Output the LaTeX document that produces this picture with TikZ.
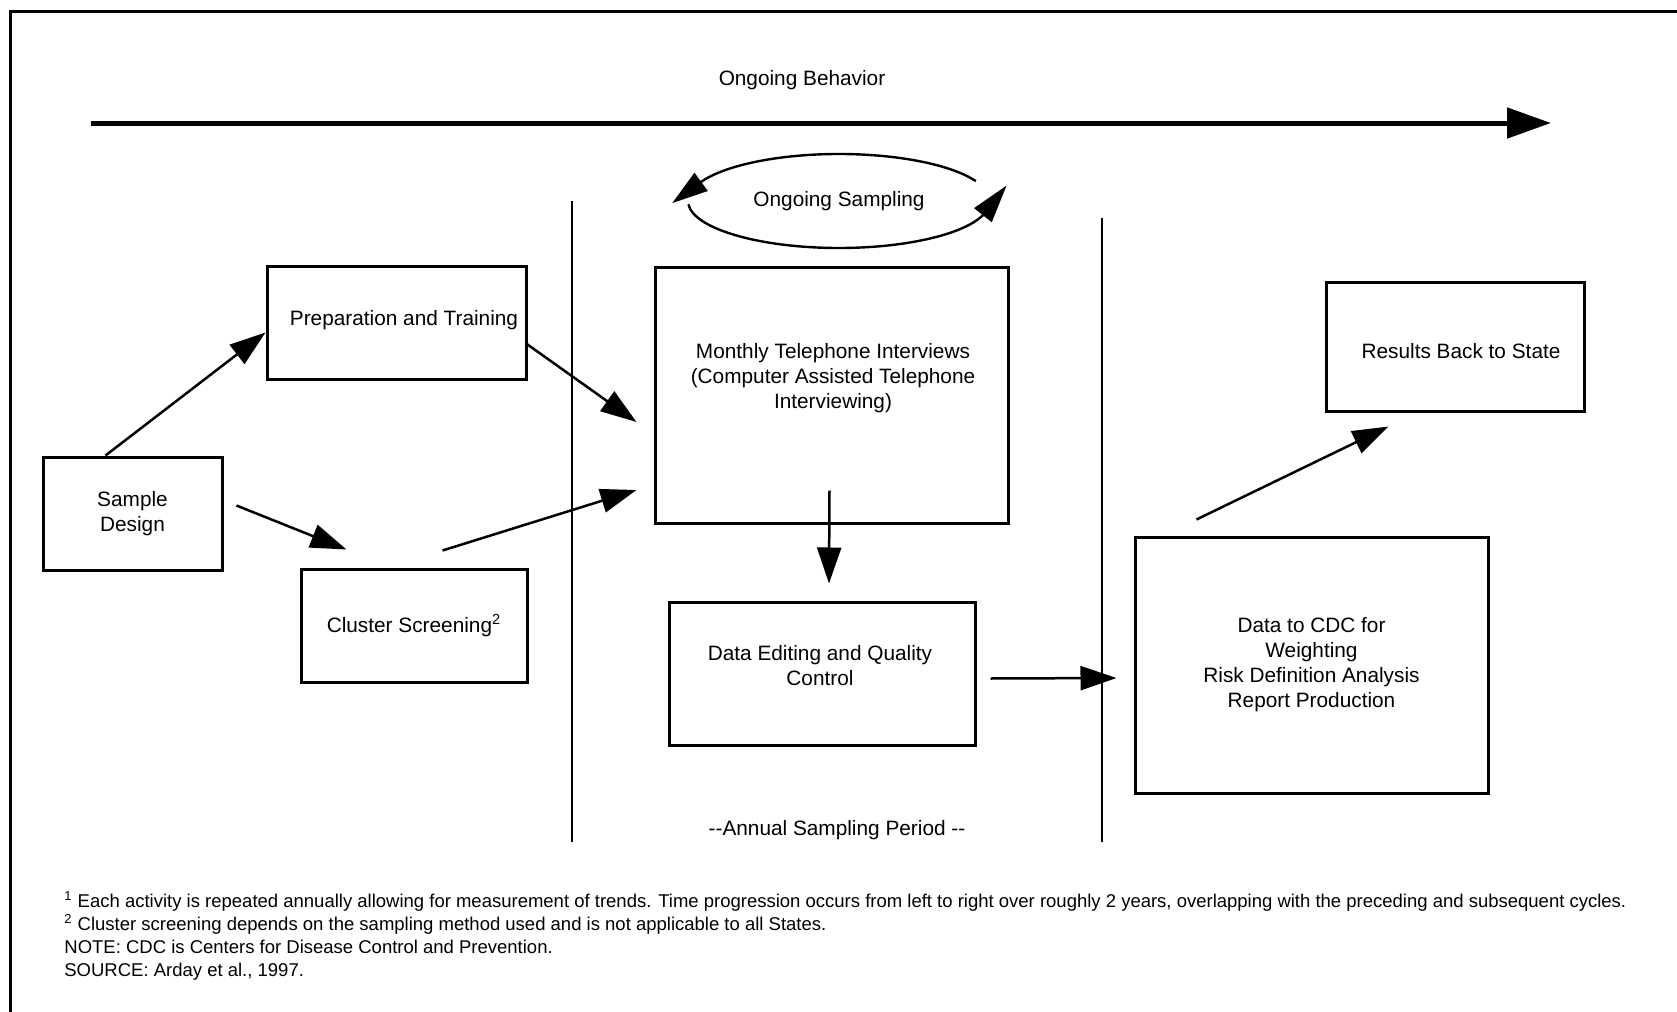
\documentclass[tikz,border=0pt]{standalone}
\usepackage{fontspec}
\setmainfont{Liberation Sans}
\usetikzlibrary{arrows.meta,calc}
\newcommand\bxfont{\fontsize{10.4pt}{12.5pt}\selectfont}
\newcommand\ftfont{\fontsize{9.25pt}{11.5pt}\selectfont}
\begin{document}
\begin{tikzpicture}[x=0.5pt,y=-0.5pt,
  box/.style={draw, line width=1.5pt, rectangle, inner sep=0pt, align=center, font=\bxfont},
  txt/.style={inner sep=0pt, align=center, font=\bxfont},
  conn/.style={line width=1.25pt, -{Triangle[length=18pt,width=12pt]}},
  sep/.style={line width=1pt},
  big/.style={line width=2.5pt, -{Triangle[length=22pt,width=15pt]}},
  loopl/.style={line width=1.2pt, -{Triangle[length=18pt,width=11pt]}},
  loopr/.style={line width=1.2pt, -{Triangle[length=19pt,width=11pt]}}]
\useasboundingbox (0,0) rectangle (1677,1012);
% frame
\draw[line width=1.5pt] (1677,11) -- (10,11) -- (10,1012);
% ongoing behavior
\node[txt] (ob) at (802,80) {Ongoing Behavior};
\coordinate (obs) at (91,123);
\coordinate (obe) at (1551,123);
\draw[big] (obs) -- (obe);
% ongoing sampling
\node[txt] (os) at (839,201) {Ongoing Sampling};
\draw[loopl] ([shift={(-25:151 and 47)}]os.center) arc[start angle=-25, end angle=-155, x radius=151, y radius=47] -- ++(-30,22);
\draw[loopr] ([shift={(176:151 and 47)}]os.center) arc[start angle=176, end angle=18, x radius=151, y radius=47] -- ++(24,-30);
% separators
\coordinate (v1t) at (572,201);
\coordinate (v1b) at (572,842);
\coordinate (v2t) at (1102,218);
\coordinate (v2b) at (1102,842);
\draw[sep] (v1t) -- (v1b);
\draw[sep] (v2t) -- (v2b);
% boxes
\node[box, minimum width=89.5pt, minimum height=56.5pt] (sd) at (132.5,513.5) {Sample\\Design};
\node[box, minimum width=129.5pt, minimum height=56.5pt] (prep) at (396.5,322.5) {};
\node[txt] (prept) at (404,320) {Preparation and Training};
\node[box, minimum width=113pt, minimum height=56.5pt] (cs) at (414,625.5) {Cluster Screening\textsuperscript{2}};
\node[box, minimum width=176.5pt, minimum height=128pt] (mti) at (831.5,395) {};
\node[txt] (mtit) at (833,378) {Monthly Telephone Interviews\\(Computer Assisted Telephone\\Interviewing)};
\node[box, minimum width=153pt, minimum height=71.5pt] (de) at (822,673.5) {};
\node[txt] (det) at (820,666) {Data Editing and Quality\\Control};
\node[box, minimum width=176.5pt, minimum height=128pt] (cdc) at (1311.5,665) {Data to CDC for\\Weighting\\Risk Definition Analysis\\Report Production};
\node[box, minimum width=129pt, minimum height=64.5pt] (res) at (1455,346.5) {};
\node[txt] (rest) at (1461,351) {Results Back to State};
\node[txt] (asp) at (837,830) {-{}-Annual Sampling Period -{}-};
% connectors
\draw[conn] ($(sd.north west)+(64,0)$) -- ($(prep.west)+(0,10)$);
\draw[conn] ($(sd.east)+(13,-8)$) -- ($(cs.north west)+(47,-18)$);
\draw[conn] ($(prep.east)+(0,22)$) -- ($(mti.west)+(-17,27)$);
\draw[conn] ($(cs.north west)+(143,-17)$) -- ($(mti.west)+(-17,95)$);
\draw[conn] ($(mti.south)+(-2,-34)$) -- ($(de.north)+(7,-17)$);
\draw[conn] ($(de.east)+(14,5)$) -- ($(cdc.west)+(-17,13)$);
\draw[conn] ($(cdc.north west)+(63,-16)$) -- ($(res.south west)+(64,14)$);
% footnotes
\node[inner sep=0pt, align=left, anchor=west, font=\ftfont] (fn) at (64,936) {\textsuperscript{1} Each activity is repeated annually allowing for measurement of trends. Time progression occurs from left to right over roughly 2 years, overlapping with the preceding and subsequent cycles.\\
\textsuperscript{2} Cluster screening depends on the sampling method used and is not applicable to all States.\\
NOTE: CDC is Centers for Disease Control and Prevention.\\
SOURCE: Arday et al., 1997.};
\end{tikzpicture}
\end{document}
